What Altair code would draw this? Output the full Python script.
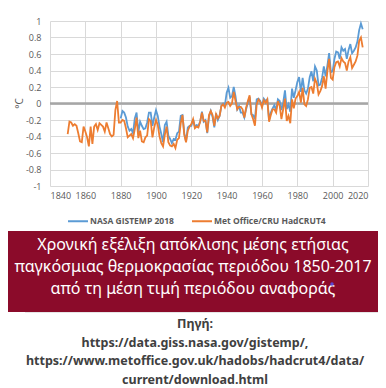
import altair as alt
import pandas as pd

# ---- data ----
had_years = list(range(1850, 2018))
hadcrut = [
    -0.37, -0.22, -0.23, -0.27, -0.25, -0.27, -0.36, -0.46, -0.47, -0.28,
    -0.34, -0.41, -0.52, -0.28, -0.49, -0.28, -0.25, -0.32, -0.24, -0.26,
    -0.28, -0.34, -0.23, -0.30, -0.37, -0.40, -0.38, -0.08, 0.03, -0.23,
    -0.23, -0.20, -0.21, -0.30, -0.41, -0.39, -0.37, -0.42, -0.31, -0.17,
    -0.42, -0.33, -0.46, -0.47, -0.41, -0.39, -0.19, -0.21, -0.41, -0.29,
    -0.20, -0.26, -0.40, -0.48, -0.52, -0.38, -0.28, -0.47, -0.51, -0.52,
    -0.49, -0.54, -0.44, -0.42, -0.24, -0.14, -0.38, -0.47, -0.33, -0.28,
    -0.25, -0.19, -0.30, -0.28, -0.29, -0.22, -0.11, -0.21, -0.21, -0.35,
    -0.14, -0.09, -0.14, -0.27, -0.13, -0.18, -0.15, -0.03, -0.01, -0.05,
    0.01, 0.02, -0.03, 0.00, 0.14, 0.03, -0.07, -0.04, -0.04, -0.07,
    -0.17, -0.05, 0.03, 0.10, -0.13, -0.19, -0.27, -0.01, 0.05, 0.02,
    -0.05, 0.04, 0.01, 0.05, -0.22, -0.14, -0.07, -0.07, -0.11, 0.03,
    -0.03, -0.19, -0.07, 0.06, -0.21, -0.15, -0.24, 0.05, -0.06, 0.06,
    0.09, 0.14, 0.01, 0.19, -0.01, -0.03, 0.05, 0.19, 0.20, 0.12,
    0.30, 0.25, 0.11, 0.15, 0.21, 0.33, 0.18, 0.39, 0.54, 0.31,
    0.29, 0.44, 0.50, 0.51, 0.45, 0.55, 0.51, 0.49, 0.40, 0.51,
    0.56, 0.43, 0.47, 0.51, 0.58, 0.76, 0.80, 0.68,
]
nasa_years = list(range(1880, 2018))
nasa = [
    -0.18, -0.09, -0.11, -0.17, -0.28, -0.33, -0.31, -0.36, -0.18, -0.11,
    -0.35, -0.22, -0.27, -0.31, -0.30, -0.23, -0.11, -0.11, -0.27, -0.17,
    -0.08, -0.15, -0.28, -0.37, -0.47, -0.26, -0.22, -0.39, -0.43, -0.48,
    -0.43, -0.44, -0.36, -0.34, -0.15, -0.14, -0.36, -0.46, -0.29, -0.27,
    -0.27, -0.19, -0.28, -0.26, -0.27, -0.22, -0.10, -0.22, -0.20, -0.36,
    -0.16, -0.09, -0.16, -0.29, -0.12, -0.20, -0.15, -0.03, 0.00, -0.02,
    0.13, 0.19, 0.07, 0.09, 0.20, 0.09, -0.07, -0.03, -0.11, -0.11,
    -0.17, -0.07, 0.01, 0.08, -0.13, -0.14, -0.19, 0.05, 0.06, 0.03,
    -0.03, 0.06, 0.03, 0.05, -0.20, -0.11, -0.06, -0.02, -0.08, 0.05,
    0.03, -0.08, 0.01, 0.16, -0.07, -0.01, -0.10, 0.18, 0.07, 0.16,
    0.26, 0.32, 0.14, 0.31, 0.16, 0.12, 0.18, 0.32, 0.39, 0.27,
    0.45, 0.40, 0.22, 0.23, 0.31, 0.45, 0.33, 0.46, 0.61, 0.38,
    0.39, 0.54, 0.63, 0.62, 0.54, 0.68, 0.64, 0.66, 0.54, 0.65,
    0.72, 0.61, 0.64, 0.68, 0.75, 0.89, 0.97, 0.90,
]
series_names = ["NASA GISTEMP 2018", "Met Office/CRU HadCRUT4"]
series_colors = ["#5B9BD5", "#ED7D31"]
x_ticks = [1840, 1860, 1880, 1900, 1920, 1940, 1960, 1980, 2000, 2020]
y_ticks = [-1, -0.8, -0.6, -0.4, -0.2, 0, 0.2, 0.4, 0.6, 0.8, 1]
zero_value = [0]
caption_lines = [
    "Χρονική εξέλιξη απόκλισης μέσης ετήσιας",
    "παγκόσμιας θερμοκρασίας περιόδου 1850-2017",
    "από τη μέση τιμή περιόδου αναφοράς",
]
source_lines = [
    "Πηγή:",
    "https://data.giss.nasa.gov/gistemp/,",
    "https://www.metoffice.gov.uk/hadobs/hadcrut4/data/",
    "current/download.html",
]

df_nasa = pd.DataFrame({"year": nasa_years, "value": nasa, "series": series_names[0]})
df_had = pd.DataFrame({"year": had_years, "value": hadcrut, "series": series_names[1]})
df_zero = pd.DataFrame({"value": zero_value})
one = pd.DataFrame({"k": [0]})

AX_FONT = "Open Sans"

x_enc = alt.X(
    "year:Q",
    scale=alt.Scale(domain=[1840, 2020], nice=False, zero=False),
    axis=alt.Axis(values=x_ticks, format="d", title=None, labelPadding=5, labelOverlap=False),
)
y_enc = alt.Y(
    "value:Q",
    scale=alt.Scale(domain=[-1, 1], nice=False),
    axis=alt.Axis(
        values=y_ticks,
        labelExpr="toString(round(datum.value*10)/10)",
        labelOverlap=False,
        title="°C",
        titleX=-31,
        titleY=82,
        titleBaseline="middle",
        titleFontWeight="normal",
        titleFontSize=10,
        titleColor="#595959",
        titleFont=AX_FONT,
        labelPadding=9,
    ),
)
color_enc = alt.Color(
    "series:N",
    scale=alt.Scale(domain=series_names, range=series_colors),
    legend=alt.Legend(
        title=None,
        orient="none",
        direction="horizontal",
        legendX=17,
        legendY=189,
        symbolType="stroke",
        symbolSize=400,
        symbolStrokeWidth=2,
        labelFont=AX_FONT,
        labelFontSize=8.5,
        labelFontWeight="bold",
        labelColor="#595959",
        labelOffset=1,
        columnPadding=14,
    ),
)

zero_line = alt.Chart(df_zero).mark_rule(color="#A6A6A6", strokeWidth=2.5).encode(y=y_enc)
nasa_line = alt.Chart(df_nasa).mark_line(strokeWidth=1.8).encode(x=x_enc, y=y_enc, color=color_enc)
had_line = alt.Chart(df_had).mark_line(strokeWidth=1.8).encode(x=x_enc, y=y_enc, color=color_enc)

red_box = alt.Chart(one).mark_rect(color="#8B0B2A").encode(
    x=alt.value(-42), x2=alt.value(328), y=alt.value(210), y2=alt.value(291)
)
faint = alt.Chart(one).mark_rule(color="#E6E6E6", strokeWidth=1).encode(
    x=alt.value(-25), x2=alt.value(328), y=alt.value(291.5)
)
caption = alt.Chart(one).mark_text(
    font="Noto Sans", fontSize=16, color="white", align="center", baseline="middle", lineHeight=22
).encode(x=alt.value(143), y=alt.value(224), text=alt.value(caption_lines))
dot = alt.Chart(one).mark_point(filled=True, size=12, color="#5A46D6", opacity=1).encode(
    x=alt.value(282), y=alt.value(263)
)
source = alt.Chart(one).mark_text(
    font="Noto Sans", fontSize=12.5, fontWeight="bold", color="#404040",
    align="center", baseline="middle", lineHeight=18.5
).encode(x=alt.value(145), y=alt.value(303), text=alt.value(source_lines))

chart = (
    alt.layer(zero_line, nasa_line, had_line, red_box, faint, caption, dot, source)
    .properties(
        width=318,
        height=165,
        autosize=alt.AutoSizeParams(type="none"),
        padding={"left": 42, "top": 13, "right": 10, "bottom": 202},
        background="white",
    )
    .configure_view(stroke=None)
    .configure_axis(
        grid=True,
        gridColor="#D9D9D9",
        gridWidth=1,
        domain=False,
        ticks=False,
        labelFont=AX_FONT,
        labelFontSize=9,
        labelColor="#595959",
    )
)

chart.save("out.html", embed_options={"renderer": "svg", "actions": False})
